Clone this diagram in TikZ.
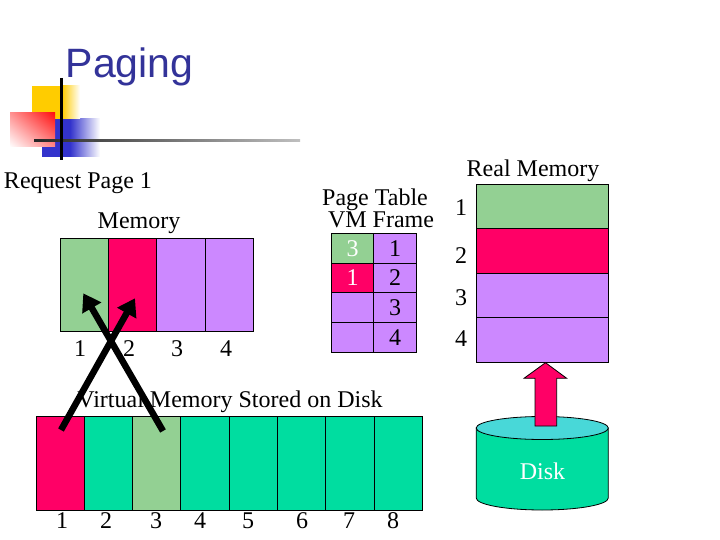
\documentclass[tikz,border=0pt]{standalone}
\usepackage{fontspec}
\setmainfont{Liberation Serif}
\newfontfamily\titlefont{Liberation Sans}
\usetikzlibrary{arrows.meta,shadings}
\definecolor{pgreen}{HTML}{93D093}
\definecolor{pred}{HTML}{FF0066}
\definecolor{ppurple}{HTML}{CC88FF}
\definecolor{pteal}{HTML}{00DDA0}
\definecolor{pcyan}{HTML}{48D8D8}
\definecolor{ptitle}{HTML}{333399}
\definecolor{logoY}{HTML}{FFCC00}
\definecolor{logoB}{HTML}{3333CC}
\definecolor{logoR}{HTML}{FF1010}
\tikzset{
  txt/.style={font=\fontsize{24}{28}\selectfont, inner sep=0pt, outer sep=0pt},
  cell/.style={draw=black, line width=0.8pt, inner sep=0pt, outer sep=0pt, txt},
  membox/.style={cell, minimum width=48.25pt, minimum height=93.5pt},
  vmbox/.style={cell, minimum width=48.29pt, minimum height=94pt},
  ptvm/.style={cell, minimum width=41.6pt, minimum height=29.75pt},
  ptfr/.style={cell, minimum width=43.4pt, minimum height=29.75pt},
  realbox/.style={cell, minimum width=131.6pt, minimum height=44.5pt},
  maparrow/.style={line width=6.5pt, -{Triangle[width=21pt,length=17pt]}},
}
\begin{document}
\begin{tikzpicture}[x=1pt,y=-1pt]
\useasboundingbox (0,0) rectangle (720,540);
% logo
\fill[logoB] (42,119) rectangle (70,157);
\shade[left color=logoB, right color=white] (70,119) rectangle (100,157);
\fill[logoY] (32,86) rectangle (62,119);
\shade[left color=logoY, right color=white] (62,86) rectangle (80,119);
\shade[upper right=logoR, upper left=logoR!45, lower left=white, lower right=logoR!50] (10,113) rectangle (55,147);
\shade[left color=black!85, right color=black!25] (34,139.5) rectangle (300,142);
\draw[line width=3pt] (61,78) -- (61,160);
\node[anchor=base west, inner sep=0pt, text=ptitle, font=\titlefont\fontsize{41}{46}\selectfont] (title) at (65.5,78) {Paging};

% headings
\node[txt, anchor=base west] (req) at (4,189) {Request Page 1};
\node[txt, anchor=base] (memhead) at (139,229) {Memory};
\node[txt, anchor=base] (pthead) at (375,205.5) {Page Table};
\node[txt, anchor=base] (pthead2) at (381,227) {VM Frame};
\node[txt, anchor=base] (realhead) at (533,176.7) {Real Memory};
\node[txt, anchor=base] (vmhead) at (230,407.3) {Virtual Memory Stored on Disk};

% physical memory (process view)
\node[membox, fill=pgreen] (m1) at (84.4,284.75) {};
\node[membox, fill=pred] (m2) at (132.6,284.75) {};
\node[membox, fill=ppurple] (m3) at (180.9,284.75) {};
\node[membox, fill=ppurple] (m4) at (229.1,284.75) {};
\node[txt] (ml1) at (80,349) {1};
\node[txt] (ml2) at (129,349) {2};
\node[txt] (ml3) at (177,349) {3};
\node[txt] (ml4) at (226,349) {4};

% page table
\node[ptvm, fill=pgreen, text=white] (pv1) at (352.5,248.2) {3};
\node[ptvm, fill=pred, text=white] (pv2) at (352.5,277.95) {1};
\node[ptvm, fill=ppurple] (pv3) at (352.5,307.7) {};
\node[ptvm, fill=ppurple] (pv4) at (352.5,337.45) {};
\node[ptfr, fill=ppurple] (pf1) at (395,248.2) {1};
\node[ptfr, fill=ppurple] (pf2) at (395,277.95) {2};
\node[ptfr, fill=ppurple] (pf3) at (395,307.7) {3};
\node[ptfr, fill=ppurple] (pf4) at (395,337.45) {4};

% real memory
\node[realbox, fill=pgreen] (r1) at (542.5,206.55) {};
\node[realbox, fill=pred] (r2) at (542.5,251.05) {};
\node[realbox, fill=ppurple] (r3) at (542.5,295.55) {};
\node[realbox, fill=ppurple] (r4) at (542.5,340.05) {};
\node[txt] (rl1) at (461,207.5) {1};
\node[txt] (rl2) at (461,256) {2};
\node[txt] (rl3) at (461,297.5) {3};
\node[txt] (rl4) at (461,339) {4};

% disk
\filldraw[fill=pteal, draw=black, line width=0.8pt] (476.2,428) -- (476.2,498)
  arc[start angle=180, end angle=0, x radius=66.05, y radius=12] -- (608.3,428) -- cycle;
\filldraw[fill=pcyan, draw=black, line width=0.8pt] (542.25,428) ellipse [x radius=66.05, y radius=11.5];
\node[txt, text=white] (disk) at (542.5,471) {Disk};
\filldraw[fill=pred, draw=black, line width=0.8pt] (535,426) -- (535,378.3) -- (524,378.3) -- (545.5,362.7)
  -- (566.7,378.3) -- (556.7,378.3) -- (556.7,426) -- cycle;

% virtual memory on disk
\foreach \i/\c in {1/pred,2/pteal,3/pgreen,4/pteal,5/pteal,6/pteal,7/pteal,8/pteal}{
  \node[vmbox, fill=\c] (v\i) at ({36+48.29*(\i-0.5)},463) {};
}
\foreach \i/\x in {1/62,2/106,3/156,4/200,5/248,6/302,7/349,8/393}{
  \node[txt] (vl\i) at (\x,521) {\i};
}

% mapping arrows
\coordinate (v3p) at (163,431);
\coordinate (m1p) at (83.3,293.3);
\coordinate (v1p) at (61,430);
\coordinate (m2p) at (135,298.3);
\draw[maparrow] (v3p) -- (m1p);
\draw[maparrow] (v1p) -- (m2p);
\end{tikzpicture}
\end{document}
